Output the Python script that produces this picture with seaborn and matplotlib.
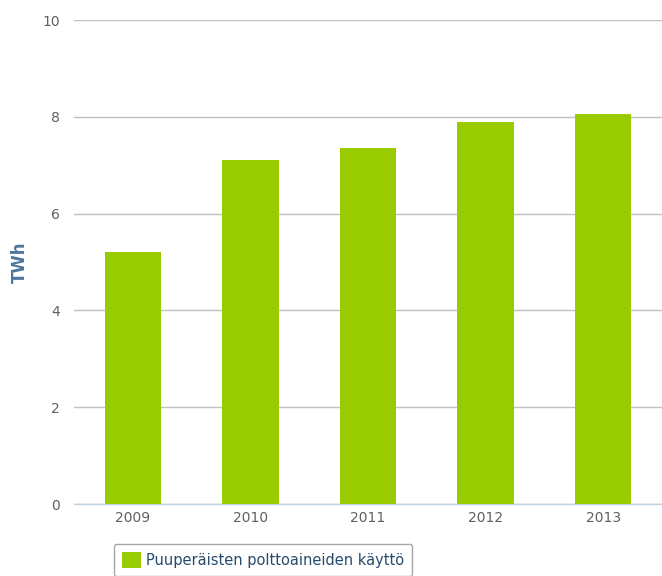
import matplotlib
matplotlib.use("Agg")
import matplotlib.pyplot as plt
import seaborn as sns
import pandas as pd
import numpy as np

# data
years = ["2009", "2010", "2011", "2012", "2013"]
values = [5.2, 7.1, 7.35, 7.9, 8.05]
series_name = "Puuperäisten polttoaineiden käyttö"

df = pd.DataFrame({"year": years, "value": values})

sns.set_style("white")
plt.rcParams["font.family"] = ["DejaVu Sans"]

fig = plt.figure(figsize=(6.62, 5.76), dpi=100)
ax = fig.add_axes([74 / 662, 1 - 504 / 576, 1 - 74 / 662, (504 - 20) / 576])

sns.barplot(data=df, x="year", y="value", color="#99CC00", width=0.48,
            saturation=1, ax=ax, label=series_name, zorder=3, linewidth=0)

ax.set_ylim(0, 10)
ax.set_xlim(-0.5, 4.5)
ax.set_yticks([0, 2, 4, 6, 8, 10])
ax.yaxis.grid(True, color="#C0C0C0", linewidth=1, zorder=0)
ax.set_axisbelow(True)

for s in ["top", "right", "left"]:
    ax.spines[s].set_visible(False)
ax.spines["bottom"].set_color("#C0D0E0")
ax.spines["bottom"].set_linewidth(1)

ax.tick_params(axis="y", length=0, labelsize=10, labelcolor="#606060", pad=10)
ax.tick_params(axis="x", which="major", length=0, labelsize=10,
               labelcolor="#606060", pad=5)
ax.set_xticks(np.arange(-0.5, 5.0, 1.0), minor=True)
ax.tick_params(axis="x", which="minor", length=8, color="#C0D0E0", width=1)

ax.set_xlabel("")
ax.set_ylabel("")
fig.text(20 / 662, 1 - 262 / 576, "TWh", rotation=90, fontsize=12,
         fontweight="bold", color="#4D759E", ha="center", va="center")

leg = ax.legend(loc="center", bbox_to_anchor=(263 / 662, 1 - 560 / 576),
                bbox_transform=fig.transFigure, fontsize=10.5, frameon=True,
                handlelength=1.3, handleheight=1.3, handletextpad=0.4,
                borderpad=0.55, fancybox=True)
leg.get_frame().set_edgecolor("#909090")
leg.get_frame().set_linewidth(1)
for t in leg.get_texts():
    t.set_color("#274B6D")

fig.savefig("out.png", dpi=100)
